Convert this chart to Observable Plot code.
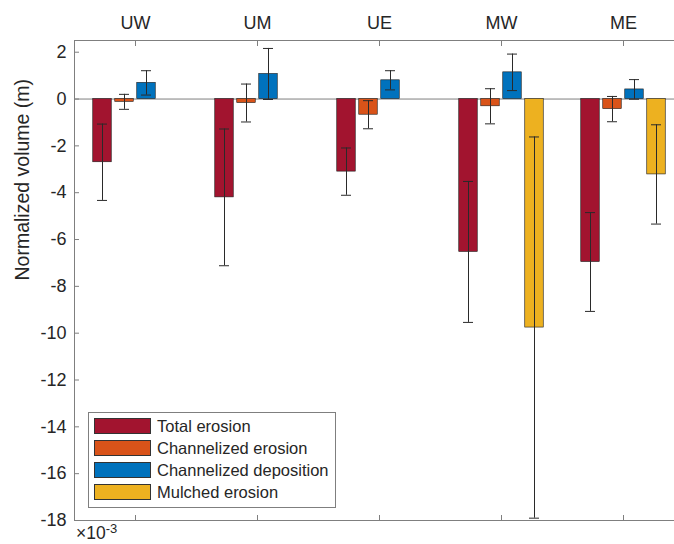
<!DOCTYPE html>
<html>
<head>
<meta charset="utf-8">
<script src="https://cdn.jsdelivr.net/npm/d3@7"></script>
<script src="https://cdn.jsdelivr.net/npm/@observablehq/plot@0.6"></script>
<style>
  html, body { margin: 0; padding: 0; overflow: hidden; background: #fff; }
  #wrap { position: relative; width: 674px; height: 544px; overflow: hidden; font-family: "Liberation Sans", Arial, sans-serif; }
  #chart svg { max-width: none !important; display: block; }
  #legend { position: absolute; left: 88px; top: 412px; width: 246px; height: 92px; border: 1px solid #7f7f7f; background: #fff; box-sizing: content-box; padding-top: 2px; }
  .row { display: flex; align-items: center; height: 22px; }
  .sw { width: 55px; height: 14px; margin-left: 5px; margin-right: 6px; border: 1px solid #333; }
  .lab { font-size: 16.5px; color: #262626; white-space: nowrap; }
  #exp { position: absolute; left: 76px; top: 523px; font-size: 17.5px; line-height: 20px; color: #262626; white-space: nowrap; }
  #exp sup { font-size: 13px; position: relative; top: -6px; vertical-align: baseline; }
</style>
</head>
<body>
<div id="wrap">
  <div id="chart"></div>
  <div id="legend"></div>
  <div id="exp">×10<sup>-3</sup></div>
</div>
<script>
const categories = ["UW", "UM", "UE", "MW", "ME"];
const series = ["Total erosion", "Channelized erosion", "Channelized deposition", "Mulched erosion"];
const colors = ["#A2142F", "#D95319", "#0072BD", "#EDB120"];

const totalErosion = [-2.70, -4.20, -3.10, -6.53, -6.96];
const totalErosionErr = [1.63, 2.92, 1.01, 3.01, 2.11];
const channelizedErosion = [-0.12, -0.17, -0.67, -0.31, -0.43];
const channelizedErosionErr = [0.32, 0.81, 0.60, 0.75, 0.54];
const channelizedDeposition = [0.69, 1.07, 0.80, 1.14, 0.41];
const channelizedDepositionErr = [0.52, 1.09, 0.41, 0.78, 0.42];
const mulchedErosion = [null, null, null, -9.76, -3.22];
const mulchedErosionErr = [null, null, null, 8.14, 2.12];

const yTicks = [2, 0, -2, -4, -6, -8, -10, -12, -14, -16, -18];
const yLabel = "Normalized volume (m)";

const values = [totalErosion, channelizedErosion, channelizedDeposition, mulchedErosion];
const errors = [totalErosionErr, channelizedErosionErr, channelizedDepositionErr, mulchedErosionErr];

const rows = [];
series.forEach((s, si) => {
  categories.forEach((c, ci) => {
    const v = values[si][ci];
    if (v == null) return;
    rows.push({cat: c, series: s, si, value: v, err: errors[si][ci]});
  });
});

const W = 684;           // symmetric frame; right edge falls just outside the window
const step = 22;         // spacing of bars within a group (px)
const barW = 18.5;
const capW = 10;
const band = (W - 74) / categories.length;
const barInset = (band - barW) / 2;
const capInset = (band - capW) / 2;

const marks = [
  Plot.ruleY([0], {stroke: "#7f7f7f", strokeWidth: 1})
];
series.forEach((s, si) => {
  const d = rows.filter(r => r.si === si);
  const dx = (si - 1.5) * step;
  marks.push(
    Plot.barY(d, {x: "cat", y: "value", fill: "series", stroke: "#1a1a1a", strokeWidth: 0.6,
      insetLeft: barInset, insetRight: barInset, dx})
  );
});
series.forEach((s, si) => {
  const d = rows.filter(r => r.si === si);
  const dx = (si - 1.5) * step;
  marks.push(
    Plot.ruleX(d, {x: "cat", y1: r => r.value - r.err, y2: r => r.value + r.err, stroke: "#2a2a2a", strokeWidth: 1, dx}),
    Plot.tickY(d, {x: "cat", y: r => r.value - r.err, stroke: "#2a2a2a", strokeWidth: 1, insetLeft: capInset, insetRight: capInset, dx}),
    Plot.tickY(d, {x: "cat", y: r => r.value + r.err, stroke: "#2a2a2a", strokeWidth: 1, insetLeft: capInset, insetRight: capInset, dx})
  );
});
marks.push(
  Plot.frame({stroke: "#7f7f7f", strokeWidth: 1}),
  Plot.axisX({anchor: "top", tickSize: -5, tickPadding: 17, stroke: "#7f7f7f", fill: "#262626", fontSize: 18, label: null}),
  Plot.axisX({anchor: "bottom", tickSize: -5, tickFormat: () => "", stroke: "#7f7f7f", label: null}),
  Plot.axisY({ticks: yTicks, tickSize: -5, tickPadding: 13, tickFormat: d => String(d), stroke: "#7f7f7f", fill: "#262626", fontSize: 18, label: null}),
  Plot.text([yLabel], {frameAnchor: "left", dx: -52, rotate: -90, fontSize: 19.5, fill: "#262626", text: d => d})
);

const chart = Plot.plot({
  width: W,
  height: 544,
  marginLeft: 74,
  marginRight: 0,
  marginTop: 40,
  marginBottom: 24,
  style: {fontFamily: "'Liberation Sans', Arial, sans-serif", fontSize: "18px", background: "#fff", maxWidth: "none"},
  x: {domain: categories, padding: 0, axis: null},
  y: {domain: [-18, 2.5], axis: null},
  color: {domain: series, range: colors},
  marks
});
document.getElementById("chart").appendChild(chart);

const legend = document.getElementById("legend");
series.forEach((s, i) => {
  const row = document.createElement("div");
  row.className = "row";
  const sw = document.createElement("div");
  sw.className = "sw";
  sw.style.background = colors[i];
  const lab = document.createElement("div");
  lab.className = "lab";
  lab.textContent = s;
  row.appendChild(sw);
  row.appendChild(lab);
  legend.appendChild(row);
});
</script>
</body>
</html>
